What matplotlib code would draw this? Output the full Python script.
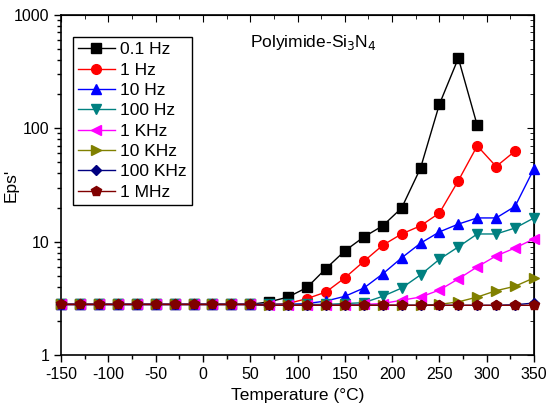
import matplotlib.pyplot as plt
import numpy as np

plt.rcParams['font.family'] = ['Liberation Sans', 'DejaVu Sans']
plt.rcParams['axes.unicode_minus'] = False

# Temperature points (deg C)
T = list(range(-150, 351, 20))

# Eps' readings per frequency
low = [2.8] * 11  # -150 .. 50
eps_01Hz = low + [2.95, 3.25, 3.95, 5.8, 8.3, 11.0, 13.8, 19.8, 44.5, 163, 415, 106]
eps_1Hz = low + [2.8, 2.85, 3.15, 3.6, 4.8, 6.7, 9.3, 11.7, 13.8, 17.9, 34.5, 70, 46, 63]
eps_10Hz = low + [2.8, 2.8, 2.85, 3.0, 3.3, 3.9, 5.2, 7.2, 9.7, 12.2, 14.3, 16.2, 16.2, 20.5, 44]
eps_100Hz = low + [2.8, 2.8, 2.8, 2.8, 2.85, 2.9, 3.3, 3.9, 5.1, 7.0, 9.0, 11.7, 11.7, 13.2, 16.2]
eps_1KHz = low + [2.75, 2.75, 2.75, 2.75, 2.75, 2.8, 2.85, 3.05, 3.25, 3.75, 4.7, 6.0, 7.5, 8.8, 10.6]
eps_10KHz = low + [2.75, 2.75, 2.75, 2.75, 2.75, 2.75, 2.75, 2.75, 2.75, 2.8, 2.95, 3.25, 3.7, 4.05, 4.8]
eps_100KHz = low + [2.75, 2.75, 2.75, 2.75, 2.75, 2.75, 2.75, 2.75, 2.75, 2.75, 2.75, 2.75, 2.75, 2.78, 2.88]
eps_1MHz = low + [2.75] * 15

series = [
    ('0.1 Hz', eps_01Hz, 'black', 's'),
    ('1 Hz', eps_1Hz, 'red', 'o'),
    ('10 Hz', eps_10Hz, 'blue', '^'),
    ('100 Hz', eps_100Hz, '#008080', 'v'),
    ('1 KHz', eps_1KHz, 'magenta', '<'),
    ('10 KHz', eps_10KHz, '#808000', '>'),
    ('100 KHz', eps_100KHz, '#000080', 'D'),
    ('1 MHz', eps_1MHz, '#800000', 'p'),
]

fig = plt.figure(figsize=(5.46, 4.12), dpi=100)
ax = fig.add_axes([0.112, 0.138, 0.866, 0.826])

for label, y, c, m in series:
    ms = 5.5 if m == 'D' else 7
    ax.plot(T[:len(y)], y, color=c, marker=m, markersize=ms, linewidth=1,
            label=label, clip_on=False, zorder=3)

ax.set_yscale('log')
ax.set_xlim(-150, 350)
ax.set_ylim(1, 1000)
ax.set_xticks(np.arange(-150, 351, 50))
ax.set_xticks(np.arange(-125, 351, 50), minor=True)
ax.set_yticks([1, 10, 100, 1000])
ax.set_yticklabels(['1', '10', '100', '1000'])
ax.tick_params(direction='out', labelsize=11.5, length=5, width=1)
ax.tick_params(which='minor', direction='out', length=3, width=1)

# mirrored inward ticks on top and right
top = ax.secondary_xaxis('top')
top.set_xticks(np.arange(-150, 351, 50))
top.set_xticks(np.arange(-125, 351, 50), minor=True)
top.tick_params(direction='in', labeltop=False, length=5)
top.tick_params(which='minor', direction='in', length=3)
right = ax.secondary_yaxis('right')
right.set_yscale('log')
right.tick_params(direction='in', labelright=False, length=5)
right.tick_params(which='minor', direction='in', length=3, labelright=False)

for s in ax.spines.values():
    s.set_linewidth(1.2)

ax.set_xlabel('Temperature (°C)', fontsize=12.5)
ax.set_ylabel("Eps'", fontsize=12.5)
ax.yaxis.set_label_coords(-0.09, 0.5)
ax.text(0.40, 0.92, 'Polyimide-Si$_3$N$_4$', transform=ax.transAxes,
        fontsize=12.5, va='center')

leg = ax.legend(loc='upper left', bbox_to_anchor=(0.025, 0.935), fontsize=12.5,
                fancybox=False, edgecolor='black', framealpha=1,
                handlelength=2.1, labelspacing=0.3, borderpad=0.3,
                handletextpad=0.3, borderaxespad=0)
leg.get_frame().set_linewidth(1)

fig.savefig('out.png', dpi=100)
